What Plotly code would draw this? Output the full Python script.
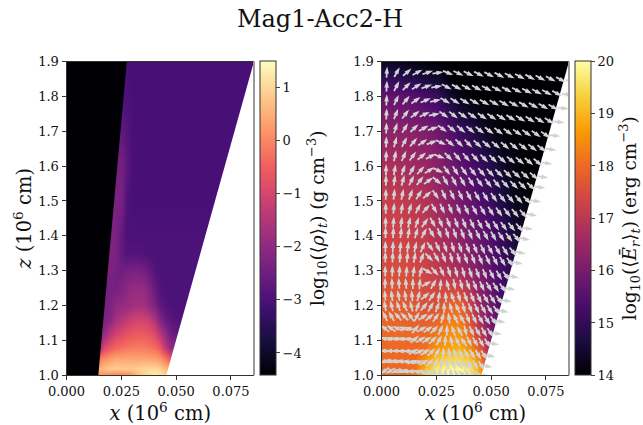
import numpy as np
import plotly.graph_objects as go

# ---------- data ----------
rho_x = [0.0, 0.0125, 0.015, 0.0175, 0.02, 0.0225, 0.025, 0.0275, 0.03, 0.0325, 0.035, 0.0375, 0.04, 0.0425, 0.045, 0.0475, 0.05, 0.06, 0.07, 0.086]
rho_z = [1.0, 1.02, 1.05, 1.08, 1.12, 1.16, 1.2, 1.25, 1.3, 1.35, 1.4, 1.5, 1.6, 1.7, 1.8, 1.9]
rho = [
 [0.1,0.1,0.1,0.0,-0.1,-0.2,-0.2,-0.1,0.2,0.6,0.9,1.1,1.25,1.2,1.0,0.5,0.5,0.5,0.5,0.5],
 [0.5,0.5,0.5,0.75,0.85,0.9,0.85,0.85,0.85,0.9,0.95,1.0,1.0,0.9,0.6,0.3,0.3,0.3,0.3,0.3],
 [-0.4,-0.4,-0.2,0.0,0.2,0.3,0.3,0.3,0.3,0.3,0.3,0.3,0.25,0.1,-0.3,-0.8,-0.8,-0.8,-0.8,-0.8],
 [-1.6,-1.6,-1.6,-0.9,-0.6,-0.4,-0.3,-0.2,-0.15,-0.15,-0.15,-0.2,-0.35,-0.6,-1.4,-2.0,-2.0,-2.0,-2.0,-2.0],
 [-2.2,-2.2,-2.2,-1.9,-1.4,-1.1,-0.9,-0.75,-0.65,-0.6,-0.6,-0.7,-0.9,-1.4,-2.0,-2.5,-2.7,-2.8,-2.8,-2.8],
 [-2.4,-2.4,-2.4,-2.3,-2.1,-1.7,-1.5,-1.3,-1.1,-1.05,-1.05,-1.2,-1.6,-2.2,-2.6,-2.8,-2.9,-2.95,-2.95,-2.95],
 [-2.4,-2.4,-2.4,-2.4,-2.3,-2.0,-1.95,-1.9,-1.75,-1.7,-1.75,-1.95,-2.3,-2.7,-2.9,-3.0,-3.0,-3.0,-3.0,-3.0],
 [-2.4,-2.4,-2.4,-2.4,-2.4,-2.4,-2.25,-2.05,-1.95,-1.9,-1.95,-2.2,-2.6,-2.9,-3.0,-3.0,-3.0,-3.0,-3.0,-3.0],
 [-2.3,-2.3,-2.3,-2.3,-2.3,-2.4,-2.5,-2.4,-2.35,-2.35,-2.4,-2.6,-2.9,-3.0,-3.0,-3.0,-3.0,-3.0,-3.0,-3.0],
 [-2.3,-2.3,-2.3,-2.3,-2.3,-2.3,-2.7,-2.9,-2.9,-2.9,-2.95,-3.0,-3.0,-3.0,-3.0,-3.0,-3.0,-3.0,-3.0,-3.0],
 [-2.3,-2.3,-2.3,-2.3,-2.3,-2.3,-2.7,-3.0,-3.0,-3.0,-3.0,-3.0,-3.0,-3.0,-3.0,-3.0,-3.0,-3.0,-3.0,-3.0],
 [-2.3,-2.3,-2.3,-2.3,-2.3,-2.3,-2.35,-2.95,-3.05,-3.05,-3.05,-3.05,-3.05,-3.05,-3.05,-3.05,-3.05,-3.05,-3.05,-3.05],
 [-2.4,-2.4,-2.4,-2.4,-2.4,-2.4,-2.4,-2.75,-3.05,-3.05,-3.05,-3.05,-3.05,-3.05,-3.05,-3.05,-3.05,-3.05,-3.05,-3.05],
 [-2.7,-2.7,-2.7,-2.7,-2.7,-2.7,-2.7,-2.85,-3.05,-3.05,-3.05,-3.05,-3.05,-3.05,-3.05,-3.05,-3.05,-3.05,-3.05,-3.05],
 [-3.0,-3.0,-3.0,-3.0,-3.0,-3.0,-3.0,-3.0,-3.05,-3.05,-3.05,-3.05,-3.05,-3.05,-3.05,-3.05,-3.05,-3.05,-3.05,-3.05],
 [-3.05,-3.05,-3.05,-3.05,-3.05,-3.05,-3.05,-3.05,-3.05,-3.05,-3.05,-3.05,-3.05,-3.05,-3.05,-3.05,-3.05,-3.05,-3.05,-3.05],
]

er_x = [0.0, 0.005, 0.01, 0.015, 0.02, 0.025, 0.03, 0.035, 0.04, 0.045, 0.05, 0.055, 0.06, 0.065, 0.07, 0.075, 0.08, 0.086]
er_z = [1.0, 1.02, 1.05, 1.08, 1.12, 1.16, 1.2, 1.3, 1.4, 1.5, 1.6, 1.7, 1.8, 1.85, 1.9]
er = [
 [17.9,17.9,18.0,18.3,19.4,19.8,20.0,20.0,19.9,18.8,16.5,16.5,16.5,16.5,16.5,16.5,16.5,16.5],
 [18.0,18.0,18.0,18.1,19.0,19.7,19.9,19.9,19.7,18.6,16.5,16.5,16.5,16.5,16.5,16.5,16.5,16.5],
 [18.0,18.0,18.0,18.0,18.5,19.1,19.3,19.4,19.1,18.2,16.5,16.5,16.5,16.5,16.5,16.5,16.5,16.5],
 [18.0,18.0,18.0,18.0,18.1,18.6,18.7,18.9,18.5,17.6,16.2,16.2,16.2,16.2,16.2,16.2,16.2,16.2],
 [18.0,18.0,18.0,18.0,18.0,18.2,18.5,18.6,18.0,17.0,16.0,16.0,16.0,16.0,16.0,16.0,16.0,16.0],
 [17.9,17.9,17.9,17.85,17.8,17.9,18.2,18.3,17.6,16.7,15.8,15.8,15.8,15.8,15.8,15.8,15.8,15.8],
 [17.8,17.8,17.8,17.7,17.6,17.6,17.9,18.0,17.3,16.4,15.8,15.2,14.8,14.8,14.8,14.8,14.8,14.8],
 [17.5,17.5,17.5,17.4,17.3,17.1,16.9,16.7,16.4,16.0,15.6,15.2,14.8,14.5,14.5,14.5,14.5,14.5],
 [17.3,17.3,17.3,17.2,17.1,16.8,16.6,16.3,16.0,15.7,15.4,15.0,14.6,14.4,14.4,14.4,14.4,14.4],
 [17.2,17.2,17.1,17.0,16.9,16.6,16.3,16.0,15.7,15.4,15.1,14.7,14.3,14.1,14.0,14.0,14.0,14.0],
 [16.8,16.8,16.7,16.6,16.5,16.3,16.0,15.7,15.4,15.1,14.8,14.4,14.2,14.0,14.0,14.0,14.0,14.0],
 [16.3,16.3,16.3,16.2,16.1,15.9,15.6,15.2,14.9,14.5,14.2,14.05,14.0,14.0,14.0,14.0,14.0,14.0],
 [15.7,15.7,15.6,15.5,15.3,15.1,14.6,14.2,14.0,14.0,14.0,14.0,14.0,14.0,14.0,14.0,14.0,14.0],
 [15.0,15.0,14.9,14.8,14.6,14.5,14.1,14.0,14.0,14.0,14.0,14.0,14.0,14.0,14.0,14.0,14.0,14.0],
 [14.3,14.3,14.2,14.1,14.05,14.0,14.0,14.0,14.0,14.0,14.0,14.0,14.0,14.0,14.0,14.0,14.0,14.0],
]

edge_z = [1.0, 1.9]
inner_edge_x = [0.0145, 0.0275]
outer_edge_x = [0.0455, 0.0855]
x_max = 0.0855

# arrow rows (z on the axis) and opening angle of each column
arrow_r = [1.87,1.83,1.79,1.75,1.71,1.67,1.63,1.59,1.56,1.52,1.48,1.44,1.41,1.37,1.34,1.30,1.265,1.23,1.2,1.17,1.135,1.105,1.07,1.04,1.012]
arrow_theta = [0.0013,0.0038,0.0063,0.0088,0.0113,0.0138,0.0163,0.0188,0.0213,0.0238,0.0263,0.0288,0.0313,0.0338,0.0363,0.0388,0.0413,0.0438,0.0463]
# direction of each arrow, degrees clockwise from north
arrow_deg = [
 [3,30,50,62,72,82,112,115,115,118,118,118,118,118,118,118,118,118,95],
 [3,28,45,58,70,80,118,118,118,118,118,118,118,118,118,118,118,118,95],
 [3,25,40,55,68,78,120,122,122,120,120,120,120,120,120,120,120,120,95],
 [3,22,38,52,65,78,125,128,125,125,125,125,122,122,122,122,122,122,95],
 [2,18,32,46,60,72,125,130,130,130,128,128,128,126,125,125,125,125,95],
 [2,15,28,40,55,70,115,130,135,135,132,130,130,130,130,128,128,128,98],
 [2,12,24,36,50,62,110,135,140,140,138,135,135,132,130,130,130,130,98],
 [1,10,20,30,42,58,115,145,148,145,142,140,138,135,135,132,132,130,98],
 [1,8,16,26,38,55,130,150,152,150,148,145,142,140,138,135,135,132,100],
 [1,6,12,20,32,50,145,155,155,155,152,150,148,145,142,140,138,135,100],
 [0,5,10,16,26,42,150,155,158,158,155,152,150,148,145,142,140,138,100],
 [0,4,8,12,20,35,150,158,160,160,158,155,152,150,148,145,142,140,100],
 [0,3,6,10,16,28,150,158,162,162,160,158,155,152,150,147,144,140,100],
 [0,2,5,8,13,25,145,155,162,165,162,160,158,155,152,150,147,142,100],
 [0,2,4,6,10,20,135,150,160,165,165,162,160,158,155,152,148,144,100],
 [0,1,3,4,8,15,120,140,155,162,165,165,162,160,157,153,150,145,100],
 [0,-2,-4,-5,0,5,60,30,5,-15,170,165,160,158,155,150,148,145,100],
 [-5,-8,-10,-8,-5,15,50,35,10,-5,-20,165,160,158,155,150,148,145,100],
 [-10,-15,-20,-25,-15,20,40,30,20,0,-15,-25,165,160,155,150,148,145,100],
 [-25,-30,-40,-45,-35,30,55,50,35,15,-8,-25,-30,160,155,150,148,145,100],
 [-50,-55,-65,-70,-75,40,60,55,45,25,2,-20,-30,165,155,150,150,147,100],
 [-75,-78,-80,-82,-85,50,60,55,45,30,3,-15,-25,-35,155,150,150,148,100],
 [-90,-90,-88,-90,-90,60,65,55,45,30,5,-10,-20,-30,150,150,150,148,100],
 [-110,-105,-100,-95,-90,70,75,60,45,25,5,-10,-25,-40,-50,150,150,148,100],
 [-125,-120,-115,-110,-100,-95,-80,-60,-40,-15,0,10,-10,-30,-50,150,150,148,100],
]

x_ticks = [0.0, 0.025, 0.05, 0.075]
z_ticks = [1.0, 1.1, 1.2, 1.3, 1.4, 1.5, 1.6, 1.7, 1.8, 1.9]
rho_ticks = [-4, -3, -2, -1, 0, 1]
er_ticks = [14, 15, 16, 17, 18, 19, 20]

title = "Mag1-Acc2-H"
x_label = "<i>x</i> (10<sup>6</sup> cm)"
z_label = "<i>z</i> (10<sup>6</sup> cm)"
rho_label = "log<sub>10</sub>(⟨<i>ρ</i>⟩<sub><i>t</i></sub>) (g cm<sup>−3</sup>)"
er_label = "log<sub>10</sub>(⟨<i>Ē</i><sub><i>r</i></sub>⟩<sub><i>t</i></sub>) (erg cm<sup>−3</sup>)"

# ---------- layout constants ----------
W, H = 643, 425
FONT = "DejaVu Serif"
INK = "#111"
dom1 = [66.5 / W, 254 / W]
dom2 = [381.5 / W, 569 / W]
domy = [1 - 375.3 / H, 1 - 61.5 / H]
px_x = (dom1[1] - dom1[0]) * W / x_max
px_z = (domy[1] - domy[0]) * H / 0.9

fig = go.Figure()

fig.add_trace(go.Heatmap(
    x=rho_x, y=rho_z, z=rho, zsmooth="best", colorscale="Magma", zmin=-4.42, zmax=1.49,
    xaxis="x", yaxis="y",
    colorbar=dict(x=260.3 / W, xref="paper", xanchor="left", y=domy[0], yref="paper", yanchor="bottom",
                  len=domy[1] - domy[0], lenmode="fraction", thickness=16, thicknessmode="pixels", xpad=0, ypad=0,
                  outlinecolor="#333", outlinewidth=1, tickvals=rho_ticks, ticks="outside", ticklen=4,
                  tickfont=dict(family=FONT, size=13, color=INK),
                  title=dict(text=rho_label, side="right", font=dict(family=FONT, size=18.5, color=INK))),
))
# black gas-free funnel and white region beyond the wedge (left panel)
fig.add_trace(go.Scatter(x=[0, 0] + inner_edge_x[::-1], y=[edge_z[0], edge_z[1], edge_z[1], edge_z[0]], fill="toself",
                         fillcolor="#000004", mode="none", xaxis="x", yaxis="y", showlegend=False, hoverinfo="skip"))
fig.add_trace(go.Scatter(x=outer_edge_x + [x_max * 1.02, x_max * 1.02], y=edge_z + [edge_z[1], edge_z[0]], fill="toself",
                         fillcolor="white", mode="none", xaxis="x", yaxis="y", showlegend=False, hoverinfo="skip"))

fig.add_trace(go.Heatmap(
    x=er_x, y=er_z, z=er, zsmooth="best", colorscale="Inferno", zmin=14, zmax=20,
    xaxis="x2", yaxis="y2",
    colorbar=dict(x=575.3 / W, xref="paper", xanchor="left", y=domy[0], yref="paper", yanchor="bottom",
                  len=domy[1] - domy[0], lenmode="fraction", thickness=16, thicknessmode="pixels", xpad=0, ypad=0,
                  outlinecolor="#333", outlinewidth=1, tickvals=er_ticks, ticks="outside", ticklen=4,
                  tickfont=dict(family=FONT, size=13, color=INK),
                  title=dict(text=er_label, side="right", font=dict(family=FONT, size=18.5, color=INK))),
))
fig.add_trace(go.Scatter(x=outer_edge_x + [x_max * 1.02, x_max * 1.02], y=edge_z + [edge_z[1], edge_z[0]], fill="toself",
                         fillcolor="white", mode="none", xaxis="x2", yaxis="y2", showlegend=False, hoverinfo="skip"))

# quiver arrows: table positions and directions, tip moved half a length ahead
rr, tt = np.meshgrid(arrow_r, arrow_theta, indexing="ij")
aa = np.array(arrow_deg, dtype=float)
LEN = 11.0
ax = rr * tt + np.sin(np.radians(aa)) * LEN / 2 / px_x
az = rr * (1 - 0.0134 * (tt / arrow_theta[-1]) ** 2) + np.cos(np.radians(aa)) * LEN / 2 / px_z
ARROW = "#d2d2d2"
fig.add_trace(go.Scatter(x=ax.ravel(), y=az.ravel(), mode="markers", xaxis="x2", yaxis="y2", showlegend=False, hoverinfo="skip",
                         marker=dict(symbol="line-ns", size=6, angle=aa.ravel(), standoff=7,
                                     line=dict(color=ARROW, width=1.8))))
fig.add_trace(go.Scatter(x=ax.ravel(), y=az.ravel(), mode="markers", xaxis="x2", yaxis="y2", showlegend=False, hoverinfo="skip",
                         marker=dict(symbol="arrow", size=7.5, angle=aa.ravel(), color=ARROW, line=dict(width=0))))

axis_common = dict(showgrid=False, zeroline=False, ticks="outside", ticklen=4, tickcolor="#333", showline=True,
                   linecolor="#333", linewidth=1, tickfont=dict(family=FONT, size=13, color=INK), automargin=False)
fig.update_layout(
    width=W, height=H, margin=dict(l=0, r=0, t=0, b=0, autoexpand=False), paper_bgcolor="white", plot_bgcolor="white",
    showlegend=False,
    title=dict(text=title, x=320 / W, xanchor="center", y=1 - 19 / H, yanchor="middle",
               font=dict(family=FONT, size=24, color=INK)),
    xaxis=dict(domain=dom1, range=[0, x_max], tickvals=x_ticks, tickformat=".3f", anchor="y", mirror=True,
               title=dict(text=x_label, font=dict(family=FONT, size=19.5, color=INK), standoff=2), **axis_common),
    yaxis=dict(domain=domy, range=[1.0, 1.9], tickvals=z_ticks, tickformat=".1f", anchor="x",
               title=dict(text=z_label, font=dict(family=FONT, size=19.5, color=INK), standoff=1), **axis_common),
    xaxis2=dict(domain=dom2, range=[0, x_max], tickvals=x_ticks, tickformat=".3f", anchor="y2", mirror=True,
                title=dict(text=x_label, font=dict(family=FONT, size=19.5, color=INK), standoff=2), **axis_common),
    yaxis2=dict(domain=domy, range=[1.0, 1.9], tickvals=z_ticks, tickformat=".1f", anchor="x2", **axis_common),
    shapes=[dict(type="line", xref="x domain", yref="y domain", x0=1, x1=1, y0=0, y1=1, line=dict(color="#999", width=2)),
            dict(type="line", xref="x2 domain", yref="y2 domain", x0=1, x1=1, y0=0, y1=1, line=dict(color="#999", width=2))],
)
fig.write_html("out.html", config={"displayModeBar": False},
               post_script="document.body.style.margin='0';document.documentElement.style.overflow='hidden';")
